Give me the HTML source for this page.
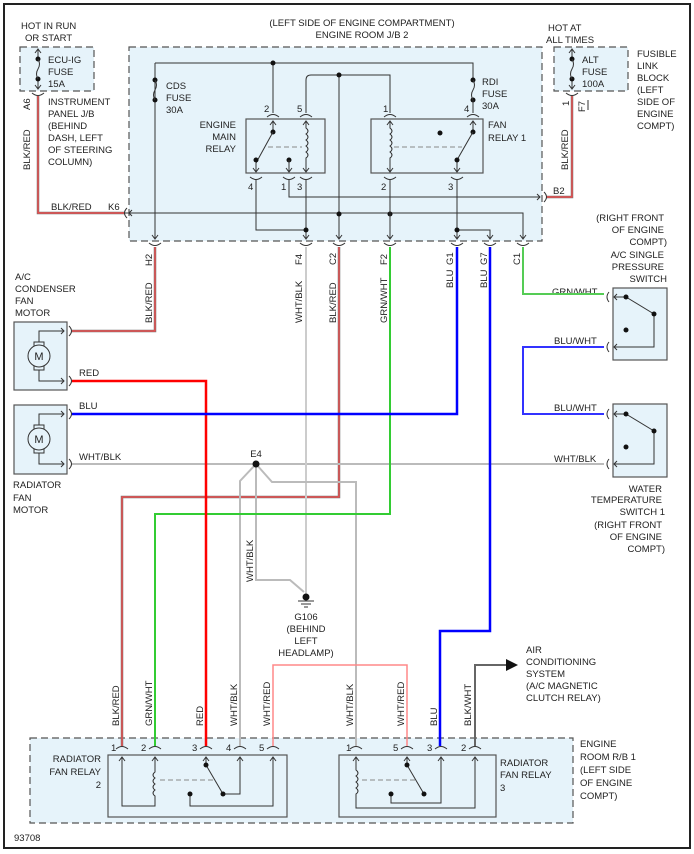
<!DOCTYPE html>
<html><head><meta charset="utf-8"><style>
html,body{margin:0;padding:0;background:#fff}
svg{display:block}
text{font-family:"Liberation Sans",Arial,sans-serif;font-size:9.5px;fill:#222}
.d{fill:#e6f3fa;stroke:#555;stroke-dasharray:7,4;stroke-width:1.2}
.k{stroke:#333;stroke-width:1;fill:none}
.bx{fill:#e6f3fa;stroke:#555;stroke-width:1.2}
</style></head><body>
<svg width="694" height="854" viewBox="0 0 694 854" xmlns="http://www.w3.org/2000/svg">
<rect x="4" y="4" width="686" height="844" fill="#fff" stroke="#222" stroke-width="2"/>

<text x="362" y="26" text-anchor="middle">(LEFT SIDE OF ENGINE COMPARTMENT)</text>
<text x="362" y="38" text-anchor="middle">ENGINE ROOM J/B 2</text>
<text x="21" y="29">HOT IN RUN</text><text x="25" y="41">OR START</text>
<text x="548" y="31">HOT AT</text><text x="546" y="43">ALL TIMES</text>
<text x="637" y="57">FUSIBLE</text><text x="637" y="69">LINK</text><text x="637" y="81">BLOCK</text><text x="637" y="93">(LEFT</text><text x="637" y="105">SIDE OF</text><text x="637" y="117">ENGINE</text><text x="637" y="129">COMPT)</text>

<rect class="d" x="20" y="47" width="74" height="44"/>
<rect class="d" x="129" y="47" width="413" height="194"/>
<rect class="d" x="554" y="47" width="74" height="44"/>
<rect class="d" x="30" y="738" width="543" height="85"/>

<path class="k" d="M38,50 V58 M38,80 V88 M35,53 L38,49 L41,53 M35,85 L38,89 L41,85"/>
<circle cx="38" cy="59" r="2.5" fill="#111"/><circle cx="38" cy="79" r="2.5" fill="#111"/>
<path class="k" d="M38,59 q3,5 0,10 q-3,5 0,10"/>
<text x="48" y="63">ECU-IG</text><text x="48" y="75">FUSE</text><text x="48" y="87">15A</text>
<path class="k" d="M32,93 Q38,98 44,93"/>
<text transform="translate(30,110) rotate(-90)">A6</text>
<text transform="translate(30,170) rotate(-90)">BLK/RED</text>
<text x="48" y="105">INSTRUMENT</text><text x="48" y="117">PANEL J/B</text><text x="48" y="129">(BEHIND</text><text x="48" y="141">DASH, LEFT</text><text x="48" y="153">OF STEERING</text><text x="48" y="165">COLUMN)</text>
<text x="51" y="210">BLK/RED</text><text x="108" y="210">K6</text>

<path class="k" d="M572,50 V58 M572,80 V88 M569,53 L572,49 L575,53 M569,85 L572,89 L575,85"/>
<circle cx="572" cy="59" r="2.5" fill="#111"/><circle cx="572" cy="79" r="2.5" fill="#111"/>
<path class="k" d="M572,59 q3,5 0,10 q-3,5 0,10"/>
<text x="582" y="63">ALT</text><text x="582" y="75">FUSE</text><text x="582" y="87">100A</text>
<path class="k" d="M566,93 Q572,98 578,93"/>
<text transform="translate(569,106) rotate(-90)">1</text>
<text transform="translate(585,112) rotate(-90)">F7</text>
<path class="k" d="M588,100 V110"/>
<text transform="translate(568,170) rotate(-90)">BLK/RED</text>
<text x="553" y="194">B2</text>

<path d="M38,96 V213 H125 M572,96 V197 H546" fill="none" stroke="#777" stroke-width="2.5"/>
<path d="M38,96 V213 H125 M572,96 V197 H546" fill="none" stroke="#f44" stroke-width="1.2"/>
<path class="k" d="M127,208 Q122,213 127,218 M132,210 L129,213 L132,216"/>
<path class="k" d="M544,192 Q549,197 544,202 M537,194 L540,197 L537,200"/>

<path class="k" d="M155,63 H473 V80 M155,63 V238 M273,63 V113 M306,113 V80 Q306,75 311,75 H390 V113 M339,75 V238"/>
<circle cx="273" cy="63" r="2.5" fill="#111"/><circle cx="339" cy="75" r="2.5" fill="#111"/>
<circle cx="155" cy="80" r="2.5" fill="#111"/><circle cx="155" cy="100" r="2.5" fill="#111"/>
<path class="k" d="M155,80 q3,5 0,10 q-3,5 0,10"/>
<text x="166" y="89">CDS</text><text x="166" y="101">FUSE</text><text x="166" y="113">30A</text>
<circle cx="473" cy="80" r="2.5" fill="#111"/><circle cx="473" cy="100" r="2.5" fill="#111"/>
<path class="k" d="M473,80 q3,5 0,10 q-3,5 0,10 M473,100 V113"/>
<text x="482" y="85">RDI</text><text x="482" y="97">FUSE</text><text x="482" y="109">30A</text>

<rect class="bx" x="246" y="119" width="79" height="54"/>
<text x="236" y="128" text-anchor="end">ENGINE</text><text x="236" y="140" text-anchor="end">MAIN</text><text x="236" y="152" text-anchor="end">RELAY</text>
<text x="264" y="112">2</text><text x="297" y="112">5</text>
<path class="k" d="M267,117 Q273,112 279,117 M300,117 Q306,112 312,117"/>
<path class="k" d="M273,121 V132 M270,125 L273,121 L276,125"/>
<circle cx="273" cy="132" r="2.5" fill="#111"/>
<path class="k" d="M273,132 L256,163 M256,163 V172 M253,168 L256,172 L259,168"/>
<circle cx="256" cy="160" r="2.5" fill="#111"/>
<path d="M268,147 H302" stroke="#888" stroke-dasharray="5,3" fill="none"/>
<path class="k" d="M306,121 V128 q4,3 0,6 q4,3 0,6 q4,3 0,6 q4,3 0,6 q4,3 0,6 V172 M303,125 L306,121 L309,125 M303,168 L306,172 L309,168"/>
<circle cx="289" cy="160" r="2.5" fill="#111"/>
<path class="k" d="M289,160 V172 M286,168 L289,172 L292,168"/>
<path class="k" d="M250,177 Q256,182 262,177 M283,177 Q289,182 295,177 M300,177 Q306,182 312,177"/>
<text x="248" y="190">4</text><text x="281" y="190">1</text><text x="297" y="190">3</text>
<path class="k" d="M256,180 V230 H306 M289,180 V197 H540 M306,180 V238 M125,213 H523 V238"/>
<circle cx="306" cy="230" r="2.5" fill="#111"/>
<circle cx="339" cy="214" r="2.5" fill="#111"/>
<circle cx="390" cy="214" r="2.5" fill="#111"/>

<rect class="bx" x="371" y="119" width="112" height="54"/>
<text x="488" y="128">FAN</text><text x="488" y="141">RELAY 1</text>
<text x="383" y="112">1</text><text x="464" y="112">4</text>
<path class="k" d="M384,117 Q390,112 396,117 M467,117 Q473,112 479,117"/>
<path class="k" d="M390,121 V128 q4,3 0,6 q4,3 0,6 q4,3 0,6 q4,3 0,6 q4,3 0,6 V172 M387,125 L390,121 L393,125 M387,168 L390,172 L393,168"/>
<path d="M394,147 H462" stroke="#888" stroke-dasharray="5,3" fill="none"/>
<circle cx="440" cy="133" r="2.5" fill="#111"/>
<path class="k" d="M473,121 V132 M470,125 L473,121 L476,125"/>
<circle cx="473" cy="132" r="2.5" fill="#111"/>
<path class="k" d="M473,132 L457,160 V172 M454,168 L457,172 L460,168"/>
<circle cx="457" cy="160" r="2.5" fill="#111"/>
<path class="k" d="M384,177 Q390,182 396,177 M451,177 Q457,182 463,177"/>
<text x="381" y="190">2</text><text x="448" y="190">3</text>
<path class="k" d="M390,180 V238 M457,180 V238 M457,230 H490 V238"/>
<circle cx="457" cy="230" r="2.5" fill="#111"/>

<g class="k">
<path d="M152,235 L155,239 L158,235 M149,243 Q155,248 161,243"/>
<path d="M303,235 L306,239 L309,235 M300,243 Q306,248 312,243"/>
<path d="M336,235 L339,239 L342,235 M333,243 Q339,248 345,243"/>
<path d="M387,235 L390,239 L393,235 M384,243 Q390,248 396,243"/>
<path d="M454,235 L457,239 L460,235 M451,243 Q457,248 463,243"/>
<path d="M487,235 L490,239 L493,235 M484,243 Q490,248 496,243"/>
<path d="M520,235 L523,239 L526,235 M517,243 Q523,248 529,243"/>
</g>
<g>
<text transform="translate(152,266) rotate(-90)">H2</text>
<text transform="translate(302,265) rotate(-90)">F4</text>
<text transform="translate(336,265) rotate(-90)">C2</text>
<text transform="translate(387,265) rotate(-90)">F2</text>
<text transform="translate(453,265) rotate(-90)">G1</text>
<text transform="translate(453,288) rotate(-90)">BLU</text>
<text transform="translate(487,265) rotate(-90)">G7</text>
<text transform="translate(487,288) rotate(-90)">BLU</text>
<text transform="translate(520,265) rotate(-90)">C1</text>
<text transform="translate(152,323) rotate(-90)">BLK/RED</text>
<text transform="translate(302,323) rotate(-90)">WHT/BLK</text>
<text transform="translate(336,323) rotate(-90)">BLK/RED</text>
<text transform="translate(387,323) rotate(-90)">GRN/WHT</text>
</g>

<rect class="bx" x="14" y="322" width="53" height="68"/>
<rect class="bx" x="14" y="405" width="53" height="69"/>
<g class="k">
<path d="M39,345 V331 H64 M61,328 L64,331 L61,334 M39,367 V381 H64 M61,378 L64,381 L61,384"/>
<path d="M69,326 Q74,331 69,336 M69,376 Q74,381 69,386"/>
<path d="M39,428 V414 H64 M61,411 L64,414 L61,417 M39,450 V464 H64 M61,461 L64,464 L61,467"/>
<path d="M69,409 Q74,414 69,419 M69,459 Q74,464 69,469"/>
</g>
<rect x="34" y="342" width="10" height="28" fill="#e6f3fa" stroke="#333"/>
<circle cx="39" cy="356" r="11" fill="#e6f3fa" stroke="#333"/>
<text x="39" y="360" text-anchor="middle" style="font-size:11px">M</text>
<rect x="34" y="425" width="10" height="28" fill="#e6f3fa" stroke="#333"/>
<circle cx="39" cy="439" r="11" fill="#e6f3fa" stroke="#333"/>
<text x="39" y="443" text-anchor="middle" style="font-size:11px">M</text>
<text x="15" y="280">A/C</text><text x="15" y="292">CONDENSER</text><text x="15" y="304">FAN</text><text x="15" y="316">MOTOR</text>
<text x="13" y="488">RADIATOR</text><text x="13" y="501">FAN</text><text x="13" y="513">MOTOR</text>
<text x="79" y="376">RED</text><text x="79" y="409">BLU</text><text x="79" y="460">WHT/BLK</text>

<rect class="bx" x="613" y="288" width="54" height="72"/>
<rect class="bx" x="613" y="404" width="54" height="73"/>
<g class="k">
<path d="M609,292 Q605,297 609,302 M609,342 Q605,347 609,352 M609,409 Q605,414 609,419 M609,459 Q605,464 609,469"/>
<path d="M614,297 H626 M617,294 L614,297 L617,300 M614,347 H654 V314 L626,297 M617,344 L614,347 L617,350"/>
<path d="M614,414 H626 M617,411 L614,414 L617,417 M614,464 H654 V431 L626,414 M617,461 L614,464 L617,467"/>
</g>
<circle cx="626" cy="297" r="2.5" fill="#111"/><circle cx="654" cy="314" r="2.5" fill="#111"/><circle cx="626" cy="330" r="2.5" fill="#111"/>
<circle cx="626" cy="414" r="2.5" fill="#111"/><circle cx="654" cy="431" r="2.5" fill="#111"/><circle cx="626" cy="447" r="2.5" fill="#111"/>
<text x="664" y="221" text-anchor="end">(RIGHT FRONT</text><text x="664" y="233" text-anchor="end">OF ENGINE</text><text x="667" y="245" text-anchor="end">COMPT)</text>
<text x="664" y="258" text-anchor="end">A/C SINGLE</text><text x="664" y="270" text-anchor="end">PRESSURE</text><text x="667" y="282" text-anchor="end">SWITCH</text>
<text x="552" y="295">GRN/WHT</text><text x="554" y="344">BLU/WHT</text><text x="554" y="411">BLU/WHT</text><text x="554" y="462">WHT/BLK</text>
<text x="662" y="492" text-anchor="end">WATER</text><text x="662" y="503" text-anchor="end">TEMPERATURE</text><text x="665" y="515" text-anchor="end">SWITCH 1</text>
<text x="662" y="528" text-anchor="end">(RIGHT FRONT</text><text x="662" y="540" text-anchor="end">OF ENGINE</text><text x="665" y="552" text-anchor="end">COMPT)</text>

<g fill="none">
<path d="M155,247 V331 H72" stroke="#777" stroke-width="2.5"/>
<path d="M155,247 V331 H72" stroke="#f44" stroke-width="1.2"/>
<path d="M339,247 V497 H122 V746" stroke="#777" stroke-width="2.5"/>
<path d="M339,247 V497 H122 V746" stroke="#f44" stroke-width="1.2"/>
<path d="M72,464 H604" stroke="#bbb" stroke-width="2"/>
<path d="M306,247 V595" stroke="#ccc" stroke-width="2"/>
<path d="M256,464 L240,481 V746 M256,464 L272,482 H356 V746 M256,464 V580 H290 L304,592" stroke="#bbb" stroke-width="2"/>
<path d="M390,247 V514 H155 V746" stroke="#3c3" stroke-width="2"/>
<path d="M523,247 V294 H604" stroke="#5c5" stroke-width="2"/>
<path d="M604,347 H523 V414 H604" stroke="#33f" stroke-width="2"/>
<path d="M72,381 H206 V746" stroke="#f00" stroke-width="2.5"/>
<path d="M72,414 H457 V247" stroke="#00f" stroke-width="2.5"/>
<path d="M490,247 V631 H440 V746" stroke="#00f" stroke-width="2.5"/>
<path d="M273,746 V665 H407 V746" stroke="#f88" stroke-width="1.5"/>
<path d="M475,746 V665 H508" stroke="#666" stroke-width="2"/>
</g>
<path d="M506,659 L518,665 L506,671 Z" fill="#111"/>
<circle cx="256" cy="464" r="3.5" fill="#111"/>
<text x="256" y="457" text-anchor="middle">E4</text>
<circle cx="306" cy="597" r="3.5" fill="#111"/>
<path d="M298,601 H314 M301,604 H311 M304,607 H308" stroke="#333"/>
<text transform="translate(253,582) rotate(-90)">WHT/BLK</text>
<text x="306" y="620" text-anchor="middle">G106</text><text x="306" y="632" text-anchor="middle">(BEHIND</text><text x="306" y="644" text-anchor="middle">LEFT</text><text x="306" y="656" text-anchor="middle">HEADLAMP)</text>
<text x="526" y="653">AIR</text><text x="526" y="665">CONDITIONING</text><text x="526" y="677">SYSTEM</text><text x="526" y="689">(A/C MAGNETIC</text><text x="526" y="701">CLUTCH RELAY)</text>

<g>
<text transform="translate(119,726) rotate(-90)">BLK/RED</text>
<text transform="translate(152,726) rotate(-90)">GRN/WHT</text>
<text transform="translate(203,726) rotate(-90)">RED</text>
<text transform="translate(237,726) rotate(-90)">WHT/BLK</text>
<text transform="translate(270,726) rotate(-90)">WHT/RED</text>
<text transform="translate(353,726) rotate(-90)">WHT/BLK</text>
<text transform="translate(404,726) rotate(-90)">WHT/RED</text>
<text transform="translate(437,726) rotate(-90)">BLU</text>
<text transform="translate(471,726) rotate(-90)">BLK/WHT</text>
</g>

<rect class="bx" x="108" y="755" width="179" height="62"/>
<text x="101" y="762" text-anchor="end">RADIATOR</text><text x="101" y="775" text-anchor="end">FAN RELAY</text><text x="101" y="788" text-anchor="end">2</text>
<text x="111" y="751">1</text><text x="141" y="751">2</text><text x="192" y="751">3</text><text x="226" y="751">4</text><text x="259" y="751">5</text>
<g class="k">
<path d="M116,749 Q122,744 128,749 M149,749 Q155,744 161,749 M200,749 Q206,744 212,749 M234,749 Q240,744 246,749 M267,749 Q273,744 279,749"/>
<path d="M122,757 V806 H155 V796 q-4,-3 0,-6 q-4,-3 0,-6 q-4,-3 0,-6 q-4,-3 0,-6 V757 M119,761 L122,757 L125,761 M152,761 L155,757 L158,761"/>
<path d="M206,757 V765 L223,794 H240 V757 M203,761 L206,757 L209,761 M237,761 L240,757 L243,761"/>
<path d="M190,794 V806 H273 V757 M270,761 L273,757 L276,761"/>
</g>
<path d="M160,780 H214" stroke="#888" stroke-dasharray="5,3"/>
<circle cx="206" cy="765" r="2.5" fill="#111"/><circle cx="223" cy="794" r="2.5" fill="#111"/><circle cx="190" cy="794" r="2.5" fill="#111"/>

<rect class="bx" x="339" y="755" width="157" height="62"/>
<text x="500" y="766">RADIATOR</text><text x="500" y="778">FAN RELAY</text><text x="500" y="791">3</text>
<text x="346" y="751">1</text><text x="393" y="751">5</text><text x="427" y="751">3</text><text x="461" y="751">2</text>
<g class="k">
<path d="M350,749 Q356,744 362,749 M401,749 Q407,744 413,749 M435,749 Q441,744 447,749 M469,749 Q475,744 481,749"/>
<path d="M356,757 V770 q4,3 0,6 q4,3 0,6 q4,3 0,6 q4,3 0,6 V808 H475 V757 M353,761 L356,757 L359,761 M472,761 L475,757 L478,761"/>
<path d="M407,757 V765 L424,794 M404,761 L407,757 L410,761"/>
<path d="M391,794 V803 H441 V757 M438,761 L441,757 L444,761"/>
</g>
<path d="M362,780 H416" stroke="#888" stroke-dasharray="5,3"/>
<circle cx="407" cy="765" r="2.5" fill="#111"/><circle cx="424" cy="794" r="2.5" fill="#111"/><circle cx="391" cy="794" r="2.5" fill="#111"/>

<text x="580" y="747">ENGINE</text><text x="580" y="760">ROOM R/B 1</text><text x="580" y="773">(LEFT SIDE</text><text x="580" y="786">OF ENGINE</text><text x="580" y="799">COMPT)</text>
<text x="14" y="841">93708</text>
</svg>
</body></html>
